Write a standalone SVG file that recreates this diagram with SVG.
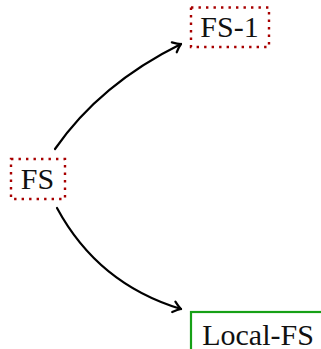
<svg xmlns="http://www.w3.org/2000/svg" width="321" height="349" viewBox="0 0 321 349">
<defs>
<style>
.lbl{font-family:"Liberation Serif","DejaVu Serif",serif;font-size:30px;fill:#111;text-anchor:middle}
.dot{fill:none;stroke:#a80000;stroke-width:2.4;stroke-dasharray:2.4 5.1}
.grn{fill:none;stroke:#16a016;stroke-width:2.2}
.edge{fill:none;stroke:#000;stroke-width:2.2;stroke-linecap:round}
.head{fill:none;stroke:#000;stroke-width:2.2;stroke-linecap:round;stroke-linejoin:round}
</style>
<marker id="arr" markerWidth="14" markerHeight="14" refX="9" refY="6" orient="auto" markerUnits="userSpaceOnUse" viewBox="0 0 14 12">
<path class="head" d="M1.5,0.5 Q6,4.5 9,6 Q6,7.5 1.5,11.5"/>
</marker>
</defs>
<g id="connectors">
<path class="edge" d="M55,149 Q100,84 181,44" marker-end="url(#arr)"/>
<path class="edge" d="M57,208 Q98,284 181,309" marker-end="url(#arr)"/>
</g>
<g id="node-fs">
<rect class="dot" x="11" y="159" width="54" height="40"/>
<text class="lbl" x="37.5" y="188.5">FS</text>
</g>
<g id="node-fs1">
<rect class="dot" x="191" y="7.5" width="78" height="39.5"/>
<text class="lbl" x="229.5" y="37">FS-1</text>
</g>
<g id="node-localfs">
<rect class="grn" x="191" y="312" width="200" height="100"/>
<text class="lbl" x="258" y="345">Local-FS</text>
</g>
</svg>
